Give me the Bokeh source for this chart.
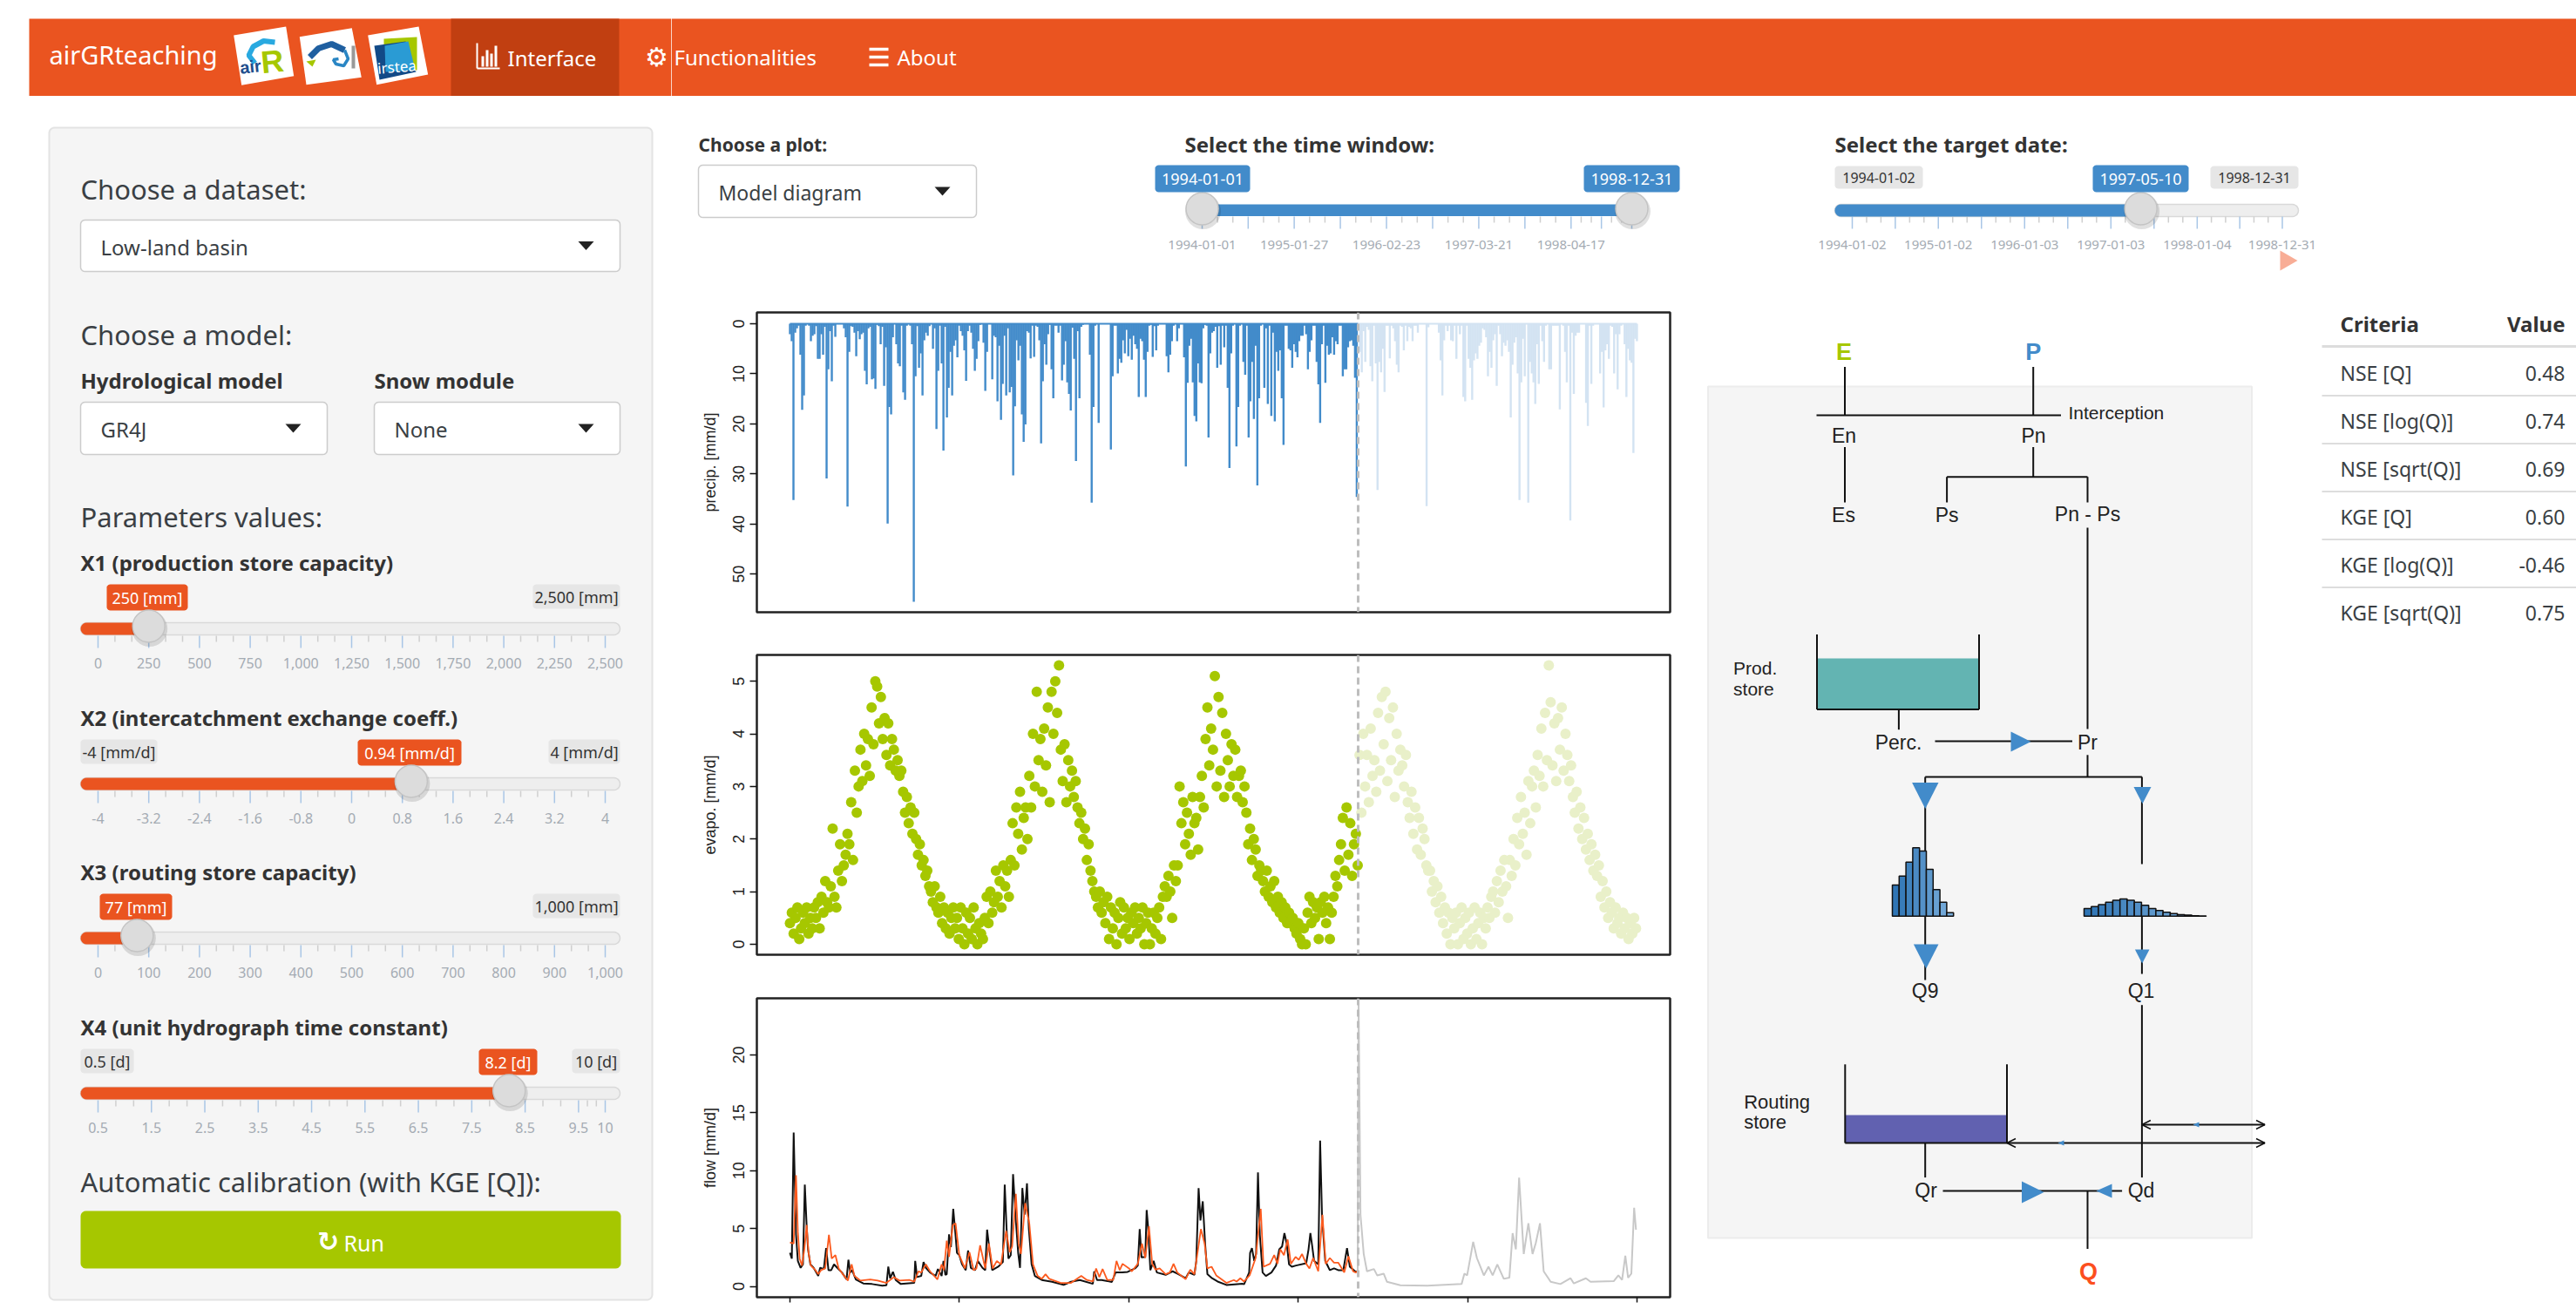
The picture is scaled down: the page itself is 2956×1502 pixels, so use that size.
import numpy as np
import pandas as pd

from bokeh.core.properties import value
from bokeh.embed import file_html
from bokeh.layouts import column, row
from bokeh.models import FixedTicker, Range1d, Span
from bokeh.plotting import figure
from bokeh.resources import INLINE

# daily series (days since 1994-01-01)
TARGET_DAY = 1225
year_days = [0, 365, 730, 1096, 1461, 1826]

precip_mm = [
    2.1, 3.5, 35.2, 1.8, .9, .4, 6.2, 17.2, 14.3, .4, .1, .4, 3.5, 2.4, 2.1, .5, 7, 7, 2.1, 6.2, .6, 30.9, 9.1, 1.5, 11.5,
    .4, 2.6, .1, .1, .1, .1, .9, 2.7, 36.5, 5.6, .5, .6, 1.8, 6.5, 1.5, 3.1, 2.1, 1.8, 9.4, 12.1, .9, .6, 11.1, 10.9, 13,
    .2, .5, 4.1, .6, 12.4, 4.7, 39.9, 16.6, 18.1, 2.7, .1, 4.1, 7.9, 8.5, .4, 13.7, 15.2, .4, .1, .4, 4.1, 55.5, 10.5, .5, 8.8,
    5.9, 14.3, 3.3, 1.8, 2.4, .5, .1, 5, .9, 21, 9.4, .4, 7.9, 25.3, .6, 18.7, 12.8, 5.6, 14.3, 4.4, 3.3, 6.7, .4, 1.5, 2.4,
    5.3, 11.4, 1.5, .4, 1.8, 5, 9.4, 7, 3.5, .2, .1, 3.8, 13.4, 5.6, .1, .1, 11.1, 2.4, 2.7, 15.5, 4.4, 19.2, 12, 2.4, 14.3,
    .9, 13.7, 12.6, 30.3, 16.5, 3.3, 7.3, 4.4, 18.1, 23.6, 20.1, 1.5, 1.8, 6.9, .4, 6.6, .4, .6, 3.3, 23.9, 11.5, 4.1, 8.2, 2.1, .2,
    9.1, 14.9, .4, .4, 1.8, .4, 11.3, 8.2, 3.5, 11.7, 14, 17.3, .8, 7, 27.4, 1.5, 14.9,
    .6, .2, .1, .1, .1, 6.2, 35.7, 16.6, .4, .1, 19.8, .1, .1, .1, .1, .1, .1, 25.1, 10.5, .4, .4, 9.9, 7, 7.8, 3.3,
    5.9, 1.2, 6.5, 3, 7.2, 2.4, 4.1, 5, 14.6, 3, 3.5, 7.2, 14.6, 5.6, .4, .2, 6.6, .5, 5.3, .4, .1, .1, .1, .1, 6.5,
    9.7, 6.2, 3.5, .4, .1, 3.5, .9, .1, .1, 6.7, 28.5, 11.8, 4.4, 3, 11.7, 18.4, 19.5, 7.9, 11.7, 11.9, .9, .2, .4, 22.7, 5.9,
    1.8, 1.5, .6, 8.8, .5, 8.2, .4, 4.7, .4, 12.8, 28.8, 5.9, .4, .1, 24.5, 16.6, .4, .1, 7.6, 10.2, .4, 22.7, 15.5, 7.6, 19,
    4.4, 32.3, 14.9, .4, .1, 12.8, .9, 16, .4, 18.4, 1.8, 19.5, 5.6, 9.4, 5.3, 14.9, 24.2, .4, .4, 5, 5.3, 8.8, 4.1, 5.6, 6.7,
    3.5, 2.4, 2.4, .4, 2.1, 9.1, 5.6, 3.3, .4, .4, 7.6, 12.1, 19.8, 4.1, .4, 11.8, 4.4, 6.2, 5.9, 2.7, 6.2, 3.5, 4.1, .4, .4,
    10.5, 9.1, 9.1, 4.7, 3.5, 3.3, 4.4, 10.8, 34.6,
]
precip_rest_mm = [
    5.6, 9.7, 1.5, 7.6, .6, 1.2, 8.5, 11.5, .4, 7.9, 33.2, 7.6, 9.7, 5, 13.6, .4, .4, 6.9, .4, .9, 3.5, 8.2, 9.7, .4, .6,
    5.3, .4, 3.5, .6, .9, 3.5, .4, .4, 1.8, .1, .1, .1, .1, 36.4, .7, .1, .1, .1, .1, .1, 1.8, 7.3, 14.3, 3.3, .4,
    1.5, .4, 3.3, 3.5, .4, 7, .4, 2.1, .4, 14.6, 15.5, .4, 7, 8.8, 15.2, 7.3, 5.9, 7, 4.4, 3.8, .9, 1.2, 2.7, 10.5, 5.6,
    8.8, 3.3, 2.1, 12.4, .4, 2.1, 6.5, 3.8, 4.4, 3.3, 5.6, 18.7, 8.2, 3.8, 2.7, 9.9, 35.2, 11.7, 3, 10.5, .1, 35.7, 7.6, 9.9, 11.7,
    16, 4.1, 12, .4, 3.5, 7.6, .4, .1, 9.1, 9.1, .4, .4, .4, .4, 17.1, .1, .4, 5.6, 11.7, .4, 39.3, 1.8, 14, 2.4, 1.8,
    1.8, .1, .1, .1, 15.8, 20.4, .4, 12, .4, .1, .1, .1, 9.9, 5.6, 16.7, 5.3, 4.1, 7, .4, .6, 9.9, 2.1, 13.1, 2.1, .4,
    .1, 4.1, 14.6, 5, 7.3, 7.8, 25.8, 3, 3.5,
]

evap_mm = [
    .4, .6, .2, .5, .7, .1, .3, .6, .4, .7, .2, .5, .3, .7, .5,
    .8, .3, .9, .6, 1.2, .8, .7, 1.1, 2.2, .9, .7, 1.4, 1.9, 1.2, 1.5,
    1.7, 2.1, 1.9, 2.7, 1.6, 3.3, 2.5, 3.0, 3.7, 3.1, 4.0, 3.4, 3.9, 3.2, 4.5,
    3.8, 5.0, 4.9, 4.2, 4.7, 3.9, 4.3, 3.6, 4.2, 3.4, 3.9, 3.7, 3.3, 3.5, 3.2,
    3.3, 2.9, 2.5, 2.8, 2.3, 2.6, 2.1, 2.5, 2.0, 1.7, 1.9, 1.5, 1.6, 1.3, 1.4,
    1.1, 1.0, .8, 1.1, .7, .6, .9, .4, .7, .3, .6, .2, .5, .7, .3,
    .5, .1, .7, .3, .0, .6, .2, .5, .1, .7, .3, .0, .4, .2, .1,
    .5, .9, .4, 1.0, .6, .8, 1.4, .9, 1.2, .7, 1.5, 1.1, 1.4, .9, 1.6,
    2.3, 1.5, 2.6, 2.1, 2.9, 1.8, 2.4, 2.6, 2.0, 3.2, 2.6, 4.0, 3.0, 4.8, 3.5,
    3.9, 2.9, 4.1, 3.4, 4.5, 2.7, 4.8, 4.0, 5.0, 4.4, 5.3, 3.7, 3.1, 3.8, 2.7,
    3.5, 3.0, 3.3, 2.8, 3.1, 2.6, 2.3, 2.5, 2.0, 2.2, 1.6, 1.9, 1.4, 1.2, 1.0,
    .9, .7, 1.0, .6, .8, .4, .9, .1, .7, .3, .6, .0, .5, .8, .2,
    .7, .3, .5, .1, .6, .4, .7, .2, .5, .3, .7, .0, .4, .6, .0,
    .3, .6, .2, .5, .7, .1, .9, 1.1, .9, 1.3, 1.0, .5, 1.5, 1.2, 1.5,
    3.0, 2.3, 2.7, 1.9, 2.5, 2.1, 1.7, 2.8, 2.3, 2.4, 1.8, 2.8, 3.2, 2.6, 3.9,
    4.5, 3.4, 4.1, 3.7, 5.1, 3.0, 4.7, 3.3, 4.4, 2.8, 4.0, 3.5, 3.0, 3.8, 3.2,
    3.7, 2.8, 3.2, 3.3, 2.7, 3.0, 2.5, 1.9, 2.2, 1.6, 2.0, 1.8, 1.3, 1.5, 1.4,
    1.2, 1.0, 1.4, .9, 1.1, .8, 1.2, .7, .9, .6, .8, .5, .7, .4, .6,
    .4, .5, .3, .2, .4, .1, .0, .3, .0, .6, .9, .4, .8, .5, .7,
    .1, .8, .6, .9, .4, .7, .1, .6, .9, 1.3, 1.1, 1.6, 1.9, 2.4, 1.4,
    2.6, 1.7, 2.3, 1.3, 1.9, 2.1, 1.5, 3.6, 2.5, 4.0, 3.0, 3.6, 2.7, 4.1, 3.2,
    3.5, 2.9, 4.4, 3.3, 4.7, 3.8, 4.8, 3.1, 4.3, 3.5, 4.5, 2.8, 4.0, 3.3, 3.7,
    3.4, 3.0, 3.6, 2.7, 2.4, 2.9, 2.1, 2.6, 1.8, 2.4, 1.7, 2.2, 2.0, 1.5, 1.4,
    1.4, 1.0, 1.2, .8, 1.1, .6, .9, .4, .7, .2, .6, .0, .5, .3, .6,
    .0, .4, .7, .1, .5, .2, .6, .0, .3, .7, .1, .4, .6, .0, .5,
    .3, .7, .5, .9, 1.0, .6, 1.2, .8, 1.4, 1.0, 1.6, 1.1, .5, 1.6, 1.3,
    2.0, 1.5, 2.4, 1.9, 2.8, 2.1, 2.5, 1.7, 3.1, 2.3, 3.0, 3.3, 2.6, 3.6, 3.2,
    4.1, 3.0, 4.4, 3.5, 5.3, 4.6, 3.4, 4.2, 3.1, 4.3, 3.7, 4.5, 3.3, 4.0, 3.6,
    3.1, 3.4, 2.8, 2.5, 2.9, 2.2, 2.6, 2.0, 2.4, 1.8, 2.1, 1.6, 1.9, 1.4, 1.7,
    1.3, 1.5, .9, 1.2, .7, 1.0, .5, .8, .6, .3, .7, .4, .5, .2, .6,
    .3, .5, .1, .4, .2, .5, .3,
]

obs_days = [
    0, 4, 8, 13, 17, 23, 28, 32, 36, 39, 44, 51, 61, 65, 73, 78, 83, 89, 95, 102, 112, 122, 126, 130, 134, 142, 158, 177, 199, 208,
    212, 216, 222, 228, 239, 268, 270, 274, 283, 288, 293, 302, 314, 319, 327, 331, 335, 338, 343, 347, 352, 357, 360, 365, 371, 379,
    384, 390, 399, 405, 415, 421, 425, 430, 436, 449, 459, 463, 467, 471, 476, 481, 487, 492, 496, 501, 506, 511, 515, 521, 528, 543,
    565, 590, 606, 625, 653, 656, 662, 672, 694, 702, 716, 728, 744, 750, 754, 758, 766, 769, 772, 777, 784, 791, 810, 825, 835, 853,
    860, 872, 876, 881, 885, 890, 895, 900, 910, 922, 941, 976, 979, 990, 992, 996, 1001, 1005, 1009, 1013, 1019, 1026, 1038, 1048,
    1055, 1061, 1066, 1071, 1076, 1082, 1091, 1113, 1118, 1122, 1126, 1130, 1139, 1143, 1147, 1154, 1164, 1173, 1182, 1193, 1201,
    1207, 1220, 1223,
]
obs_mm = [
    2.9, 2.4, 13.3, 4.5, 2.2, 1.6, 1.9, 8.8, 5.2, 3.2, 1.9, 1.6, .9, 1.6, 1.5, 3.3, 1.4, 1.4, 1.9, 1.6, 1.2, .6, 2.3, 1.2, 1.4, .6, .25, .2, .05, .1,
    1.7, .7, 1.25, .55, .2, .3, 2.2, .8, .9, 2.1, 1.6, 1.2, .9, 1.5, .9, 2.2, 1.0, 1.05, 4.5, 3.4, 6.7, 4.4, 2.9, 2.7, 1.9, 1.4,
    3.1, 1.6, 1.4, 2.2, 1.6, 1.4, 4.9, 3.2, 1.4, 1.7, 2.1, 8.8, 5, 2.4, 2.7, 9.7, 5.7, 2.9, 1.6, 8.5, 6.2, 8.9, 5, 1.9, .9, .55,
    .4, .13, .4, .55, .22, 1.3, .55, .55, .38, 1.2, 1.2, 1.25, 1.55, 1.8, 4.95, 2.5, 2.55, 6.6, 5.2, 1.4, 2.2, 1.2, 1, 1.3, 1.1, .7,
    1.2, 1, 2.2, 8.5, 5.7, 7.35, 3.7, 1.05, .7, .42, .12, .22, .18, 1.2, 2.9, 3.3, 2.2, 2.8, 9.85, 4.45, 1.2, .9, 1.2, 1.8,
    3.2, 3.45, 4.6, 3.7, 1.9, 1.7, 1.8, 2, 3.2, 4.6, 3.45, 2.2, 1.9, 12.6, 6.2, 2.2, 1.4, 1.55, 1.4, 1.4, 3.3,
    1.7, 1.25, 1.3,
]
sim_days = [
    0, 8, 13, 17, 21, 26, 31, 36, 40, 45, 55, 61, 67, 76, 84, 90, 98, 105, 114, 125, 133, 139, 152, 173, 189, 208, 224, 236, 258, 268,
    277, 283, 293, 302, 318, 327, 332, 338, 343, 351, 357, 365, 377, 387, 396, 402, 410, 421, 429, 437, 446, 455, 466, 474, 479, 487,
    493, 498, 507, 516, 524, 534, 543, 551, 559, 584, 606, 628, 640, 653, 660, 667, 674, 684, 697, 704, 711, 717, 731, 737, 750, 759,
    766, 774, 781, 788, 797, 810, 819, 827, 835, 853, 863, 872, 886, 894, 900, 909, 919, 941, 957, 963, 971, 979, 991, 1004, 1015,
    1021, 1035, 1044, 1051, 1057, 1065, 1073, 1080, 1090, 1097, 1104, 1113, 1120, 1128, 1139, 1148, 1155, 1164, 1173, 1182, 1195, 1204,
    1214, 1220, 1223,
]
sim_mm = [
    3.8, 3.7, 9.6, 4.7, 2.4, 1.8, 3.2, 5.3, 2.9, 1.8, 1.4, 1.05, 1.4, 1.55, 4.45, 2.4, 2.7, 1.55, 1.05, .5, 1.9, .9, .5, .6, .5, .3, .8, .5, .55, .4,
    1.3, 1.2, 1.9, 1.3, .6, 1.9, 1.4, 3.95, 2.55, 5.3, 5.45, 2.7, 1.55, 2.95, 1.4, 1.55, 3.55, 1.55, 3.7, 1.55, 2.2, 1.9, 4.8, 2.95, 3.45, 8,
    3.7, 2.8, 7.2, 5.45, 1.9, .9, .65, 1.05, .65, .3, .3, .9, .55, .42, 1.55, .8, 1.5, .55, .55, 2.2, 1.4, 1.95, 1.55, 1.3, 1.95, 3.7,
    2.45, 5.2, 1.95, 1.45, 1.55, 1.05, 1.2, 1.95, 1.2, .62, 1.45, 1.05, 4.95, 3.7, 1.55, 1.7, .95, .3, .55, .42, .7, .42, .95, 2.45, 6.7,
    1.7, 1.95, 2.7, 1.95, 3.2, 2.7, 4.05, 1.95, 2.55, 2.3, 2.8, 1.95, 1.55, 2.45, 1.3, 6.2, 1.95, 2.45, 2.05, 2.05, 1.2, 2.6,
    1.3, 1.2, 1.3,
]
rest_days = [
    1224, 1226, 1230, 1237, 1244, 1259, 1266, 1280, 1287, 1316, 1374, 1448, 1454, 1460, 1473, 1481, 1496, 1506, 1515, 1525, 1539, 1551,
    1558, 1565, 1572, 1582, 1592, 1601, 1608, 1617, 1625, 1640, 1661, 1683, 1690, 1716, 1726, 1776, 1786, 1794, 1801, 1807, 1814, 1820, 1824,
]
rest_mm = [
    1.3, 24.5, 6.2, 2.8, 1.3, 1.5, .95, 1.1, .4, .1, .05, .2, 1.1, .95, 3.85, 2.45, .95, 1.7, .95, 1.9, .65, .75,
    4.6, 3.2, 9.4, 2.8, 5.45, 2.8, 3.75, 5.45, 1.3, .4, .2, .7, .25, .7, .4, .45, .95, .55, 2.65, .75, 1.1, 6.8, 4.9,
]

# unit hydrographs of the diagram
uh1_ordinates = [.089, .115, .155, .196, .187, .134, .076, .04, .01]
uh2_ordinates = [.06, .075, .09, .11, .125, .135, .125, .11, .085, .06, .045, .03, .02, .012, .009, .003, .002]

# table
criteria_names = ["NSE [Q]", "NSE [log(Q)]", "NSE [sqrt(Q)]", "KGE [Q]", "KGE [log(Q)]", "KGE [sqrt(Q)]"]
criteria_values = ["0.48", "0.74", "0.69", "0.60", "-0.46", "0.75"]

# sliders
x1_ticks = [0, 250, 500, 750, 1000, 1250, 1500, 1750, 2000, 2250, 2500]
x1_labels = ["0", "250", "500", "750", "1,000", "1,250", "1,500", "1,750", "2,000", "2,250", "2,500"]
x2_ticks = [-4, -3.2, -2.4, -1.6, -.8, 0, .8, 1.6, 2.4, 3.2, 4]
x2_labels = ["-4", "-3.2", "-2.4", "-1.6", "-0.8", "0", "0.8", "1.6", "2.4", "3.2", "4"]
x3_ticks = [0, 100, 200, 300, 400, 500, 600, 700, 800, 900, 1000]
x3_labels = ["0", "100", "200", "300", "400", "500", "600", "700", "800", "900", "1,000"]
x4_ticks = [.5, 1.5, 2.5, 3.5, 4.5, 5.5, 6.5, 7.5, 8.5, 9.5, 10]
x4_labels = ["0.5", "1.5", "2.5", "3.5", "4.5", "5.5", "6.5", "7.5", "8.5", "9.5", "10"]
window_labels = ["1994-01-01", "1995-01-27", "1996-02-23", "1997-03-21", "1998-04-17"]
target_labels = ["1994-01-02", "1995-01-02", "1996-01-03", "1997-01-03", "1998-01-04", "1998-12-31"]

ORANGE = "#ea5420"
BLUE = "#428bca"
GREEN = "#a6c700"
UI_FONT = "Noto Sans"
R_FONT = "Liberation Sans"
TEXT = "#3a3f44"


def ui_figure(x0, x1, y0, y1):
    p = figure(width=x1 - x0, height=y1 - y0, x_range=Range1d(x0, x1), y_range=Range1d(y1, y0),
               x_axis_type=None, y_axis_type=None, output_backend="svg", toolbar_location=None,
               min_border=0, outline_line_color=None)
    return p


def label(p, x, y, text, size, color=TEXT, font=UI_FONT, style="normal", align="left", angle=0):
    p.text(x=[x], y=[y], text=[text], text_font=value(font), text_font_size=f"{size}px", text_color=color,
           text_font_style=style, text_align=align, text_baseline="middle", angle=angle)


def round_box(p, x0, y0, x1, y1, r=5, fill="white", line=None, lw=1.5):
    t = np.linspace(0, np.pi / 2, 6)
    xs = np.concatenate([x1 - r + r * np.sin(t), x1 - r + r * np.cos(t), x0 + r - r * np.sin(t), x0 + r - r * np.cos(t)])
    ys = np.concatenate([y0 + r - r * np.cos(t), y1 - r + r * np.sin(t), y1 - r + r * np.cos(t), y0 + r - r * np.sin(t)])
    p.patch(xs, ys, fill_color=fill, line_color=line, line_width=lw)


def tri(p, x0, y0, x1, y1, direction, color=BLUE):
    if direction == "down":
        xs, ys = [x0, x1, (x0 + x1) / 2], [y0, y0, y1]
    elif direction == "right":
        xs, ys = [x0, x0, x1], [y0, y1, (y0 + y1) / 2]
    else:
        xs, ys = [x1, x1, x0], [y0, y1, (y0 + y1) / 2]
    p.patch(xs, ys, fill_color=color, line_color=None)


def select_box(p, x0, y0, x1, y1, text, size=24):
    round_box(p, x0, y0, x1, y1, fill="white", line="#cccccc", lw=1.5)
    label(p, x0 + 23, (y0 + y1) / 2 + 1, text, size)
    tri(p, x1 - 48, (y0 + y1) / 2 - 5, x1 - 30, (y0 + y1) / 2 + 5, "down", "#222222")


def badge(p, x0, y0, x1, y1, text, fill="#e6e6e6", color="#333333", size=18):
    round_box(p, x0, y0, x1, y1, r=4, fill=fill)
    label(p, (x0 + x1) / 2, (y0 + y1) / 2, text, size, color=color, align="center")


def slider_ticks(p, xs, labels, y, label_y, size=16):
    # major ticks with labels, two minor ticks in each gap
    minors = [a + (b - a) * f for a, b in zip(xs[:-1], xs[1:]) for f in (1 / 3, 2 / 3)]
    p.segment(minors, [y] * len(minors), minors, [y + 7] * len(minors), line_color="#cfcfcf", line_width=1.5)
    p.segment(xs, [y] * len(xs), xs, [y + 14] * len(xs), line_color="#a9c6e6", line_width=1.5)
    for x, text in zip(xs, labels):
        if text:
            label(p, x, label_y, text, size, color="#a4abb3", align="center")


def handle(p, x, y):
    p.scatter([x + 1], [y + 3], size=41, marker="circle", fill_color="#000000", fill_alpha=.12, line_color=None)
    p.scatter([x], [y], size=37, marker="circle", fill_color="#dcdcdc", line_color="#c4c4c4", line_width=1.5)


def parameter_slider(p, top, title, lo, hi, val, ticks, labels, val_text, val_box, min_text=None, min_x=0, max_text="", max_x=0):
    x0, x1 = 112, 694
    to_x = lambda v: x0 + (v - lo) / (hi - lo) * (x1 - x0)
    label(p, 92, top, title, 24, style="bold", color="#333333")
    if min_text:
        badge(p, 92, top + 25, min_x, top + 53, min_text)
    badge(p, max_x, top + 25, 711, top + 53, max_text)
    badge(p, val_box[0], top + 25, val_box[1], top + 55, val_text, fill=ORANGE, color="white")
    round_box(p, 92, top + 69, 711, top + 83, r=7, fill="#eeeeee", line="#d9d9d9")
    hx = to_x(val)
    round_box(p, 92, top + 69, hx, top + 83, r=7, fill=ORANGE)
    slider_ticks(p, [to_x(t) for t in ticks], labels, top + 84, top + 115)
    handle(p, hx, top + 73)


# left column: navbar start and the side panel
left = ui_figure(0, 770, 0, 1500)
left.quad(left=[33], right=[770], top=[21], bottom=[109.5], fill_color=ORANGE, line_color=None)
left.quad(left=[517], right=[710], top=[21], bottom=[109.5], fill_color="#c13f11", line_color=None)
label(left, 56, 62, "airGRteaching", 29, color="white")

# logos, roughly sketched on white cards
left.patch([267.7, 327.7, 336.7, 276.7], [40, 30, 86.7, 97.3], fill_color="white", line_color=None)
left.line([315, 302, 290, 285, 292], [48, 46.5, 53, 63, 72], line_color="#29a9e0", line_width=6)
label(left, 312, 70, "R", 36, color=GREEN, font=R_FONT, style="bold", align="center", angle=.1)
label(left, 287, 76, "air", 20, color="#1f4e8c", font=R_FONT, style="bold", align="center", angle=.1)
left.patch([343.3, 403.3, 414.3, 351], [41.7, 31.7, 88.3, 96.7], fill_color="white", line_color=None)
left.line([355, 365, 380, 395], [65, 55, 50, 57], line_color="#1f5fa0", line_width=7)
left.line([395, 399, 394, 385, 382, 388], [57, 67, 75, 73, 68, 67], line_color="#2a86c4", line_width=3.5)
left.patch([351, 362, 358], [70, 68, 76], fill_color=GREEN, line_color=None)
left.quad(left=[403], right=[407], top=[52], bottom=[78], fill_color="#999999", line_color=None)
left.patch([421.7, 480, 490.7, 431.7], [40, 30, 85, 96.7], fill_color="white", line_color=None)
left.patch([440, 478, 478, 440], [44, 42, 80, 80], fill_color=GREEN, line_color=None)
left.patch([429, 465, 477, 435], [52, 47, 82, 91], fill_color="#124a87", line_color=None)
left.patch([441, 468, 476, 442], [52, 47, 80, 82], fill_color="#2a9bd4", line_color=None)
label(left, 455, 76, "irstea", 17, color="white", align="center", angle=.08)

# navbar icons
left.segment([547, 547], [49, 78], [547, 573], [78, 78], line_color="white", line_width=2)
left.quad(left=[552, 557, 562, 567], right=[555, 560, 565, 570], top=[64, 57, 61, 52], bottom=[76] * 4, fill_color="white", line_color=None)
label(left, 582, 66, "Interface", 24, color="white")
label(left, 753, 65, "\u2699", 30, color="white", font="DejaVu Sans", style="bold", align="center")

# side panel
round_box(left, 56, 146, 748, 1491, r=6, fill="#f5f5f5", line="#e3e3e3", lw=2)
label(left, 92, 216, "Choose a dataset:", 31)
select_box(left, 92, 252, 711, 311, "Low-land basin")
label(left, 92, 383, "Choose a model:", 31)
label(left, 92, 436, "Hydrological model", 24, style="bold", color="#333333")
label(left, 429, 436, "Snow module", 24, style="bold", color="#333333")
select_box(left, 92, 461, 375, 521, "GR4J")
select_box(left, 429, 461, 711, 521, "None")
label(left, 92, 592, "Parameters values:", 31)

parameter_slider(left, 645, "X1 (production store capacity)", 0, 2500, 250, x1_ticks, x1_labels, "250 [mm]", (122, 215),
                 max_text="2,500 [mm]", max_x=611)
parameter_slider(left, 823, "X2 (intercatchment exchange coeff.)", -4, 4, .94, x2_ticks, x2_labels, "0.94 [mm/d]", (410, 529),
                 min_text="-4 [mm/d]", min_x=180, max_text="4 [mm/d]", max_x=629)
parameter_slider(left, 1000, "X3 (routing store capacity)", 0, 1000, 77, x3_ticks, x3_labels, "77 [mm]", (114, 197),
                 max_text="1,000 [mm]", max_x=611)
parameter_slider(left, 1178, "X4 (unit hydrograph time constant)", .5, 10, 8.2, x4_ticks, x4_labels, "8.2 [d]", (549, 616),
                 min_text="0.5 [d]", min_x=153, max_text="10 [d]", max_x=656)

label(left, 92, 1355, "Automatic calibration (with KGE [Q]):", 31)
round_box(left, 92, 1389, 712, 1455, r=6, fill=GREEN)
label(left, 376, 1424, "\u21bb", 30, color="white", font="DejaVu Sans", style="bold", align="center")
label(left, 394, 1425, "Run", 25, color="white")

# top strip: rest of the navbar and the plot controls
top = ui_figure(770, 2956, 0, 340)
top.quad(left=[770], right=[2956], top=[21], bottom=[109.5], fill_color=ORANGE, line_color=None)
label(top, 773, 65, "Functionalities", 24, color="white")
top.segment([997] * 3, [56, 65, 74], [1019] * 3, [56, 65, 74], line_color="white", line_width=3.5)
label(top, 1029, 65, "About", 24, color="white")

label(top, 801, 165, "Choose a plot:", 21, style="bold", color="#333333")
select_box(top, 801, 189, 1120, 249, "Model diagram", size=23)

label(top, 1359, 165, "Select the time window:", 24, style="bold", color="#333333")
date0 = pd.Timestamp("1994-01-01")
date1 = pd.Timestamp("1998-12-31")
win_x = lambda d: 1379 + (pd.Timestamp(d) - date0).days / (date1 - date0).days * 493
win_xs = [win_x(d) for d in window_labels]
win_ticks = []
for a, b in zip(win_xs[:-1], win_xs[1:]):
    win_ticks += [a, (a + b) / 2]
win_ticks += [win_xs[-1], (win_xs[-1] + win_x(date1)) / 2, win_x(date1)]
win_labels = [t for d in window_labels[:-1] for t in (d, "")] + [window_labels[-1], "", ""]
slider_ticks(top, win_ticks, win_labels, 248, 280, size=15)
top.quad(left=[1379], right=[1872], top=[234], bottom=[247.5], fill_color=BLUE, line_color=None)
handle(top, win_x(date0), 239)
handle(top, win_x(date1), 239)
badge(top, 1325, 189, 1434, 220, "1994-01-01", fill=BLUE, color="white")
badge(top, 1817, 189, 1927, 220, "1998-12-31", fill=BLUE, color="white")

label(top, 2105, 165, "Select the target date:", 24, style="bold", color="#333333")
tgt0 = pd.Timestamp("1994-01-02")
tgt_x = lambda d: 2125 + (pd.Timestamp(d) - tgt0).days / (date1 - tgt0).days * 493.5
tgt_xs = [tgt_x(d) for d in target_labels]
tgt_ticks = []
for a, b in zip(tgt_xs[:-1], tgt_xs[1:]):
    tgt_ticks += [a, (a + b) / 2]
tgt_ticks += [tgt_xs[-1]]
tgt_labels = [t for d in target_labels[:-1] for t in (d, "")] + [target_labels[-1]]
round_box(top, 2105, 234, 2637, 248, r=7, fill="#eeeeee", line="#d9d9d9")
slider_ticks(top, tgt_ticks, tgt_labels, 248, 280, size=15)
round_box(top, 2105, 234, tgt_x("1997-05-10"), 248, r=7, fill=BLUE)
handle(top, tgt_x("1997-05-10"), 239)
badge(top, 2105, 190, 2206, 216, "1994-01-02", size=16)
badge(top, 2401, 189, 2511, 220, "1997-05-10", fill=BLUE, color="white")
badge(top, 2536, 190, 2637, 216, "1998-12-31", size=16)
tri(top, 2616, 287, 2636, 310, "right", "#f8ad96")


def chart(height, y_range, border_top, border_bottom, ylabel, ticks):
    p = figure(width=1180, height=height, x_range=Range1d(-71.4, 1897.6), y_range=Range1d(*y_range),
               output_backend="svg", toolbar_location=None, min_border_left=98, min_border_right=34,
               min_border_top=border_top, min_border_bottom=border_bottom)
    p.grid.visible = False
    p.outline_line_color = "#222222"
    p.outline_line_width = 2.5
    p.xaxis.visible = False
    ax = p.yaxis[0]
    ax.ticker = FixedTicker(ticks=ticks)
    ax.minor_tick_line_color = None
    ax.axis_line_color = None
    ax.major_tick_in = 0
    ax.major_tick_out = 8
    ax.major_tick_line_color = "#111111"
    ax.major_tick_line_width = 1.5
    ax.major_label_orientation = "vertical"
    ax.major_label_text_font = R_FONT
    ax.major_label_text_font_size = "18px"
    ax.major_label_text_color = "#222222"
    ax.major_label_standoff = 6
    ax.axis_label = ylabel
    ax.axis_label_text_font = R_FONT
    ax.axis_label_text_font_size = "18px"
    ax.axis_label_text_font_style = "normal"
    ax.axis_label_text_color = "#222222"
    ax.axis_label_standoff = 14
    return p


def target_line(p):
    p.add_layout(Span(location=TARGET_DAY, dimension="height", line_color="#bdbdbd", line_width=3, line_dash="8 5"))


precip = chart(386, (57.6, -2.26), 18, 24, "precip. [mm/d]", [0, 10, 20, 30, 40, 50])
precip_days = np.linspace(0, 1222, len(precip_mm))
rest_precip_days = np.linspace(1229, 1826, len(precip_rest_mm))
step = precip_days[1] - precip_days[0]
precip.vbar(x=rest_precip_days, width=step * 1.2, bottom=0, top=precip_rest_mm, fill_color="#d3e3f2", line_color=None)
precip.vbar(x=precip_days, width=step * 1.2, bottom=0, top=precip_mm, fill_color=BLUE, line_color=None)
precip.line(year_days[:1] + [TARGET_DAY], [0, 0], line_color=BLUE, line_width=2)
precip.line([TARGET_DAY, year_days[-1]], [0, 0], line_color="#d3e3f2", line_width=2)
target_line(precip)

evapo = chart(394, (-.2, 5.5), 25, 25, "evapo. [mm/d]", [0, 1, 2, 3, 4, 5])
evap_days = np.arange(len(evap_mm)) * 4
evap_vals = np.array(evap_mm)
before = evap_days < TARGET_DAY
evapo.scatter(evap_days[~before], evap_vals[~before], marker="circle", size=12, fill_color="#e9f0c9", line_color=None)
evapo.scatter(evap_days[before], evap_vals[before], marker="circle", size=12, fill_color=GREEN, line_color=None)
target_line(evapo)

flow = chart(380, (-.94, 24.9), 25, 12, "flow [mm/d]", [0, 5, 10, 15, 20])
flow.line(rest_days, rest_mm, line_color="#c8c8c8", line_width=2)
flow.line(obs_days, obs_mm, line_color="#111111", line_width=2)
flow.line(sim_days, sim_mm, line_color="#fc5a1e", line_width=1.8)
target_line(flow)
flow.xaxis.visible = True
xax = flow.xaxis[0]
xax.ticker = FixedTicker(ticks=year_days)
xax.minor_tick_line_color = None
xax.axis_line_color = None
xax.major_tick_in = 0
xax.major_tick_out = 6
xax.major_tick_line_color = "#111111"
xax.major_tick_line_width = 1.5
# the year labels fall below the screenshot's edge
xax.major_label_overrides = {d: "" for d in year_days}
xax.major_label_text_font_size = "1px"
xax.major_label_standoff = 0

# right side: table and model diagram
diag = ui_figure(1950, 2956, 340, 1500)
label(diag, 2685, 371, "Criteria", 24, style="bold", color="#333333")
label(diag, 2943, 371, "Value", 24, style="bold", color="#333333", align="right")
diag.segment([2664], [397], [2956], [397], line_color="#dddddd", line_width=3)
row_y = 427.5
for name, val in zip(criteria_names, criteria_values):
    label(diag, 2685, row_y, name, 23)
    label(diag, 2943, row_y, val, 23, align="right")
    if name != criteria_names[-1]:
        diag.segment([2664], [row_y + 26], [2956], [row_y + 26], line_color="#dddddd", line_width=2)
    row_y += 55

diag.quad(left=[1959.5], right=[2583.5], top=[443], bottom=[1420], fill_color="#f5f5f5", line_color="#ececec", line_width=2)
diag.quad(left=[2084.5], right=[2270.5], top=[755], bottom=[813.4], fill_color="#63b4b2", line_color=None)
diag.quad(left=[2117], right=[2302.5], top=[1279], bottom=[1311], fill_color="#6161b0", line_color=None)

seg_x0 = [2116.5, 2332.7, 2084, 2116.5, 2332.7, 2233.6, 2233.6, 2395, 2395, 2084.5, 2270.5, 2084.5, 2178.4, 2220, 2395, 2208.7,
          2208.7, 2457.4, 2208.7, 2457.4, 2457.4, 2116.8, 2302.5, 2116.8, 2208.7, 2457.4, 2302.5, 2229, 2395]
seg_y0 = [420.5, 420.5, 476, 512.5, 512.5, 546.7, 546.7, 546.7, 605, 727.6, 727.6, 813.4, 813.4, 850, 865.8, 891,
          891, 891, 1050.7, 1050.7, 1152.7, 1220.8, 1220.8, 1311, 1311, 1290, 1311, 1366, 1366]
seg_x1 = [2116.5, 2332.7, 2364.5, 2116.5, 2332.7, 2395, 2233.6, 2395, 2395, 2084.5, 2270.5, 2270.5, 2178.4, 2377.5, 2395, 2457.4,
          2208.7, 2457.4, 2208.7, 2457.4, 2457.4, 2116.8, 2302.5, 2302.5, 2208.7, 2598.5, 2598.5, 2434.6, 2395]
seg_y1 = [476, 476, 476, 576, 546.7, 546.7, 576, 576, 836, 813.4, 813.4, 813.4, 836.7, 850, 891, 891,
          1030, 991, 1124, 1117, 1350.6, 1311, 1311, 1311, 1350.6, 1290, 1311, 1366, 1432.5]
diag.segment(seg_x0, seg_y0, seg_x1, seg_y1, line_color="#111111", line_width=2)

# open arrow heads of the exchange lines
for hx, hy, sign in [(2457.4, 1290, 1), (2598.5, 1290, -1), (2302.5, 1311, 1), (2598.5, 1311, -1)]:
    diag.line([hx + sign * 10, hx, hx + sign * 10], [hy - 5, hy, hy + 5], line_color="#111111", line_width=1.5)

for x0, y0, x1, y1, direction in [(2307, 839, 2330, 862, "right"), (2193.6, 897.6, 2224, 927.6, "down"),
                                  (2448, 902.5, 2468, 921.8, "down"), (2195.4, 1083, 2224, 1111, "down"),
                                  (2449.4, 1089, 2466, 1105, "down"), (2319.5, 1355, 2345, 1380, "right"),
                                  (2405, 1358, 2423, 1374, "left"), (2516, 1287, 2523, 1293, "left"),
                                  (2361, 1308, 2368, 1314, "left")]:
    tri(diag, x0, y0, x1, y1, direction)


def unit_hydrograph(p, ordinates, x0, width, px_per_unit, base=1050.7):
    n = len(ordinates)
    shades = [f"#{int(47 + 85 * i / n):02x}{int(117 + 65 * i / n):02x}{int(181 + 44 * i / n):02x}" for i in range(n)]
    lefts = [x0 + i * width for i in range(n)]
    rights = [x0 + (i + 1) * width for i in range(n)]
    tops = [base - o * px_per_unit for o in ordinates]
    p.quad(left=lefts, right=rights, top=tops, bottom=[base] * n, fill_color=shades, line_color="#111111", line_width=1.5)


unit_hydrograph(diag, uh1_ordinates, 2171, 7.8, 400)
unit_hydrograph(diag, uh2_ordinates, 2391, 8.24, 146)

for x, y, text in [(2115.6, 499, "En"), (2333, 499, "Pn"), (2115, 590.5, "Es"), (2233.6, 590.5, "Ps"), (2395, 589, "Pn - Ps"),
                   (2178, 851.5, "Perc."), (2395, 851, "Pr"), (2208.7, 1136.6, "Q9"), (2456.5, 1136.6, "Q1"),
                   (2209.6, 1365.8, "Qr"), (2456.5, 1365.8, "Qd")]:
    label(diag, x, y, text, 23, color="#222222", font=R_FONT, align="center")
label(diag, 2373, 472.6, "Interception", 21, color="#222222", font=R_FONT)
label(diag, 1988.6, 765.7, "Prod.", 21, color="#222222", font=R_FONT)
label(diag, 1988.6, 790, "store", 21, color="#222222", font=R_FONT)
label(diag, 2000.7, 1264, "Routing", 22, color="#222222", font=R_FONT)
label(diag, 2000.7, 1287, "store", 22, color="#222222", font=R_FONT)
label(diag, 2115.6, 403, "E", 27, color=GREEN, font=R_FONT, style="bold", align="center")
label(diag, 2332.7, 403, "P", 27, color=BLUE, font=R_FONT, style="bold", align="center")
label(diag, 2396, 1458, "Q", 27, color="#fc4f1e", font=R_FONT, style="bold", align="center")

page = row(left, column(top, row(column(precip, evapo, flow), diag)))
open("out.html", "w").write(file_html(page, INLINE))
